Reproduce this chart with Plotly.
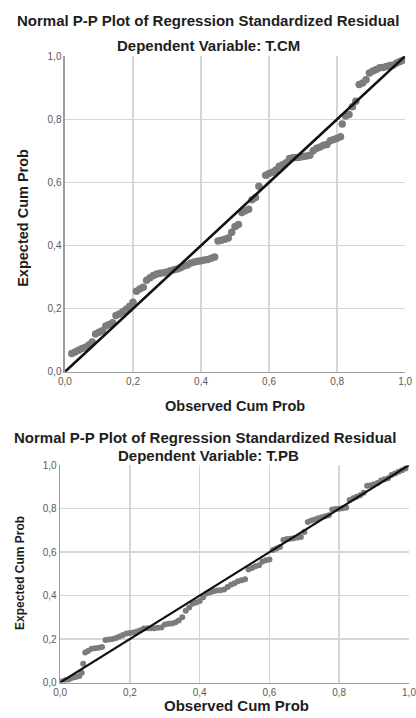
import plotly.graph_objects as go

# ---------------- data ----------------
tick_vals = [0.0, 0.2, 0.4, 0.6, 0.8, 1.0]
tick_text = ["0,0", "0,2", "0,4", "0,6", "0,8", "1,0"]
diag_line = [0.0, 1.0]

cm_observed = [0.02, 0.03, 0.04, 0.05, 0.06, 0.07, 0.08, 0.09, 0.10, 0.11,
               0.12, 0.13, 0.14, 0.15, 0.16, 0.17, 0.18, 0.19, 0.20, 0.21,
               0.22, 0.23, 0.24, 0.25, 0.26, 0.27, 0.28, 0.29, 0.30, 0.31,
               0.32, 0.33, 0.34, 0.35, 0.36, 0.37, 0.38, 0.39, 0.40, 0.41,
               0.42, 0.43, 0.44, 0.45, 0.46, 0.47, 0.48, 0.49, 0.50, 0.51,
               0.52, 0.53, 0.54, 0.55, 0.56, 0.57, 0.59, 0.60, 0.61, 0.62,
               0.63, 0.64, 0.65, 0.66, 0.67, 0.68, 0.69, 0.70, 0.71, 0.72,
               0.73, 0.74, 0.75, 0.76, 0.77, 0.78, 0.79, 0.80, 0.81, 0.815,
               0.825, 0.835, 0.845, 0.855, 0.865, 0.875, 0.885, 0.895, 0.905, 0.915,
               0.925, 0.935, 0.945, 0.955, 0.965, 0.975, 0.985, 0.995]
cm_expected = [0.058, 0.063, 0.068, 0.074, 0.078, 0.085, 0.094, 0.120, 0.125, 0.130,
               0.145, 0.150, 0.155, 0.178, 0.183, 0.190, 0.198, 0.208, 0.220, 0.255,
               0.262, 0.268, 0.290, 0.298, 0.305, 0.310, 0.312, 0.314, 0.316, 0.320,
               0.323, 0.326, 0.330, 0.335, 0.338, 0.345, 0.348, 0.350, 0.352, 0.354,
               0.356, 0.360, 0.364, 0.414, 0.417, 0.420, 0.424, 0.442, 0.460, 0.467,
               0.505, 0.510, 0.515, 0.545, 0.552, 0.588, 0.623, 0.628, 0.632, 0.639,
               0.651, 0.656, 0.662, 0.676, 0.678, 0.679, 0.680, 0.682, 0.684, 0.686,
               0.700, 0.708, 0.712, 0.718, 0.720, 0.732, 0.736, 0.740, 0.745, 0.785,
               0.810, 0.815, 0.840, 0.857, 0.910, 0.915, 0.925, 0.947, 0.953, 0.958,
               0.963, 0.964, 0.967, 0.970, 0.972, 0.978, 0.983, 0.988]

pb_observed = [0.005, 0.015, 0.025, 0.035, 0.045, 0.055, 0.062, 0.066, 0.072, 0.08,
               0.09, 0.10, 0.11, 0.12, 0.13, 0.14, 0.15, 0.16, 0.17, 0.18,
               0.19, 0.20, 0.21, 0.22, 0.23, 0.24, 0.25, 0.26, 0.27, 0.28,
               0.29, 0.30, 0.31, 0.32, 0.33, 0.34, 0.35, 0.36, 0.37, 0.38,
               0.39, 0.40, 0.41, 0.42, 0.43, 0.44, 0.45, 0.46, 0.47, 0.48,
               0.49, 0.50, 0.51, 0.52, 0.53, 0.54, 0.55, 0.56, 0.57, 0.58,
               0.59, 0.60, 0.61, 0.62, 0.63, 0.64, 0.65, 0.66, 0.67, 0.68,
               0.69, 0.70, 0.71, 0.72, 0.73, 0.74, 0.75, 0.76, 0.77, 0.78,
               0.79, 0.80, 0.81, 0.82, 0.83, 0.84, 0.85, 0.86, 0.87, 0.88,
               0.89, 0.90, 0.91, 0.92, 0.93, 0.94, 0.95, 0.96, 0.97, 0.98, 0.99]
pb_expected = [0.005, 0.010, 0.014, 0.022, 0.025, 0.030, 0.045, 0.086, 0.138, 0.145,
               0.155, 0.158, 0.160, 0.163, 0.196, 0.198, 0.200, 0.205, 0.212, 0.218,
               0.225, 0.228, 0.230, 0.235, 0.240, 0.248, 0.250, 0.250, 0.250, 0.252,
               0.253, 0.267, 0.270, 0.272, 0.276, 0.285, 0.300, 0.330, 0.345, 0.362,
               0.368, 0.375, 0.392, 0.410, 0.415, 0.420, 0.423, 0.425, 0.428, 0.440,
               0.450, 0.457, 0.466, 0.470, 0.475, 0.520, 0.527, 0.535, 0.540, 0.557,
               0.562, 0.566, 0.610, 0.617, 0.624, 0.656, 0.660, 0.662, 0.664, 0.667,
               0.670, 0.692, 0.738, 0.745, 0.750, 0.756, 0.760, 0.765, 0.770, 0.796,
               0.798, 0.800, 0.802, 0.805, 0.840, 0.848, 0.855, 0.862, 0.873, 0.905,
               0.908, 0.912, 0.918, 0.930, 0.935, 0.940, 0.955, 0.962, 0.970, 0.977, 0.985]

main_title = "Normal P-P Plot of Regression Standardized Residual"
sub_titles = ["Dependent Variable: T.CM", "Dependent Variable: T.PB"]
x_title = "Observed Cum Prob"
y_title = "Expected Cum Prob"

# ---------------- layout helpers ----------------
W, H = 416, 718


def fx(p):
    return p / W


def fy(p):
    return 1 - p / H


POINT_COLOR = "#7c7c7c"
GRID_COLOR = "#d6d6d6"
AXIS_COLOR = "#9c9c9c"
TEXT_COLOR = "#1e1e1e"
FONT = "Liberation Sans, Arial, sans-serif"

fig = go.Figure()

fig.add_trace(go.Scatter(x=cm_observed, y=cm_expected, mode="markers",
                         marker=dict(size=7.5, color=POINT_COLOR, line=dict(width=0)),
                         xaxis="x", yaxis="y", showlegend=False, hoverinfo="skip"))
fig.add_trace(go.Scatter(x=diag_line, y=diag_line, mode="lines",
                         line=dict(color="#111111", width=2.6),
                         xaxis="x", yaxis="y", showlegend=False, hoverinfo="skip"))
fig.add_trace(go.Scatter(x=pb_observed, y=pb_expected, mode="markers",
                         marker=dict(size=6, color=POINT_COLOR, line=dict(width=0)),
                         xaxis="x2", yaxis="y2", showlegend=False, hoverinfo="skip"))
fig.add_trace(go.Scatter(x=diag_line, y=diag_line, mode="lines",
                         line=dict(color="#111111", width=2.2),
                         xaxis="x2", yaxis="y2", showlegend=False, hoverinfo="skip"))

axis_common = dict(
    range=[0, 1], tickvals=tick_vals, ticktext=tick_text,
    showgrid=True, gridcolor=GRID_COLOR, gridwidth=1.5,
    showline=True, linecolor=AXIS_COLOR, linewidth=1.5,
    zeroline=False, ticks="", fixedrange=True,
    ticklabeloverflow="allow",
    tickfont=dict(family=FONT, size=10, color="#5a5a5a"),
)

fig.update_layout(
    width=W, height=H, autosize=False,
    margin=dict(l=0, r=0, t=0, b=0),
    paper_bgcolor="white", plot_bgcolor="white",
    xaxis=dict(domain=[fx(60), fx(412)], anchor="y", **axis_common),
    yaxis=dict(domain=[fy(372), fy(51)], anchor="x", **axis_common),
    xaxis2=dict(domain=[fx(55), 1.0], anchor="y2", **axis_common),
    yaxis2=dict(domain=[fy(688), fy(467)], anchor="x2", **axis_common),
)

ann = []


def add_text(text, x, y, size, angle=0, family=FONT):
    ann.append(dict(text="<b>" + text + "</b>", x=fx(x), y=fy(y), xref="paper", yref="paper",
                    xanchor="center", yanchor="middle", showarrow=False, textangle=angle,
                    font=dict(family=family, size=size, color=TEXT_COLOR)))


# top chart
add_text(main_title, 208, 15, 15)
add_text(sub_titles[0], 208, 40, 15)
add_text(x_title, 236, 407, 14.5)
add_text(y_title, 17, 215, 14.5, angle=-90)
# bottom chart
add_text(main_title, 205, 439, 15)
add_text(sub_titles[1], 208, 457, 15)
add_text(x_title, 237, 711, 15)
add_text(y_title, 14, 577, 12, angle=-90,
         family="Liberation Sans Narrow, Arial Narrow, Liberation Sans, sans-serif")

fig.update_layout(annotations=ann)

page_fix = ("document.documentElement.style.margin='0';"
            "document.documentElement.style.overflow='hidden';"
            "document.body.style.margin='0';"
            "document.body.style.overflow='hidden';")

fig.write_html("out.html", post_script=page_fix,
               config={"displayModeBar": False, "staticPlot": True})
